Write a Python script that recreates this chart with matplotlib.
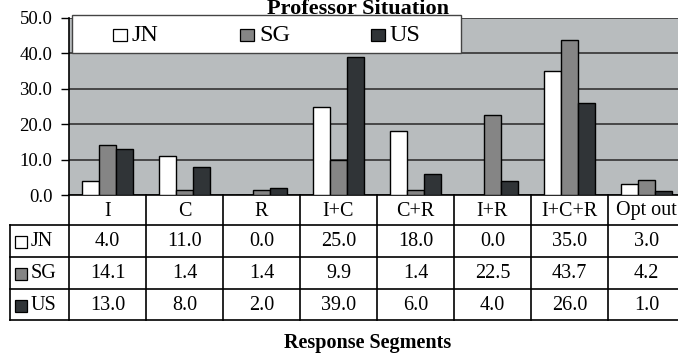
import matplotlib.pyplot as plt
from matplotlib.patches import Rectangle

# Data
segments = ['I', 'C', 'R', 'I+C', 'C+R', 'I+R', 'I+C+R', 'Opt out']
groups = ['JN', 'SG', 'US']
jn = [4.0, 11.0, 0.0, 25.0, 18.0, 0.0, 35.0, 3.0]
sg = [14.1, 1.4, 1.4, 9.9, 1.4, 22.5, 43.7, 4.2]
us = [13.0, 8.0, 2.0, 39.0, 6.0, 4.0, 26.0, 1.0]
yticks = [0, 10, 20, 30, 40, 50]

colors = ['#ffffff', '#858585', '#303437']
bg = '#b8bcbe'
plt.rcParams['font.family'] = ['Liberation Serif', 'DejaVu Serif']

W, H = 678, 353
fig = plt.figure(figsize=(W / 100, H / 100), dpi=100)

# layout in pixels
left, colw = 69, 77
top, bottom = 18, 195
n = len(segments)
right = left + colw * n

ax = fig.add_axes([left / W, 1 - bottom / H, (right - left) / W, (bottom - top) / H])
ax.set_facecolor(bg)
ax.set_xlim(-0.5, n - 0.5)
ax.set_ylim(0, 50)
bw = 0.22
xs = range(n)
for k, vals in enumerate([jn, sg, us]):
    ax.bar([x + (k - 1) * bw for x in xs], vals, width=bw, color=colors[k],
           edgecolor='black', linewidth=1.0, zorder=3)
ax.set_yticks(yticks)
ax.set_yticklabels(['%.1f' % v for v in yticks], fontsize=13.5)
ax.set_xticks([])
ax.yaxis.grid(True, color='#333333', linewidth=1.2, zorder=1)
ax.tick_params(axis='y', length=6, width=1, pad=6)
for s in ['top', 'right']:
    ax.spines[s].set_visible(False)
ax.spines['left'].set_linewidth(1.2)
ax.spines['bottom'].set_linewidth(1.2)

# overlay in pixel coordinates for legend and data table
ov = fig.add_axes([0, 0, 1, 1], zorder=5)
ov.set_xlim(0, W)
ov.set_ylim(H, 0)
ov.axis('off')

# legend box
ov.add_patch(Rectangle((72, 15), 461 - 72, 38, facecolor='white',
                       edgecolor='#444444', linewidth=1.0))
leg_x = [113, 240, 371]
for k, g in enumerate(groups):
    ov.add_patch(Rectangle((leg_x[k], 29), 14, 12, facecolor=colors[k],
                           edgecolor='black', linewidth=0.9))
    ov.text(leg_x[k] + 19, 35.5, g, fontsize=17.5, va='center', ha='left')

# data table
row_y = [195, 225, 257, 289, 320]
lc = 'black'
lw = 1.2
for y in row_y[1:]:
    ov.plot([10, right], [y, y], color=lc, lw=lw)
ov.plot([10, 10], [row_y[1], row_y[-1]], color=lc, lw=lw)
for i in range(n + 1):
    x = left + i * colw
    ov.plot([x, x], [row_y[0], row_y[-1]], color=lc, lw=lw)
for i, seg in enumerate(segments):
    ov.text(left + (i + 0.5) * colw, (row_y[0] + row_y[1]) / 2 + 1, seg,
            fontsize=14.5, ha='center', va='center')
for r, (g, vals) in enumerate(zip(groups, [jn, sg, us])):
    yc = (row_y[r + 1] + row_y[r + 2]) / 2 + 1
    ov.add_patch(Rectangle((15, yc - 6), 12, 12, facecolor=colors[r],
                           edgecolor='black', linewidth=0.9))
    ov.text(31, yc, g, fontsize=14.5, ha='left', va='center')
    for i, v in enumerate(vals):
        ov.text(left + (i + 0.5) * colw, yc, '%.1f' % v,
                fontsize=14.5, ha='center', va='center')

ov.text(358, 14, 'Professor Situation', fontsize=16, fontweight='bold',
        ha='center', va='baseline')
ov.text(368, 343, 'Response Segments', fontsize=14.5, fontweight='bold',
        ha='center', va='center')

fig.savefig('out.png', dpi=100)
